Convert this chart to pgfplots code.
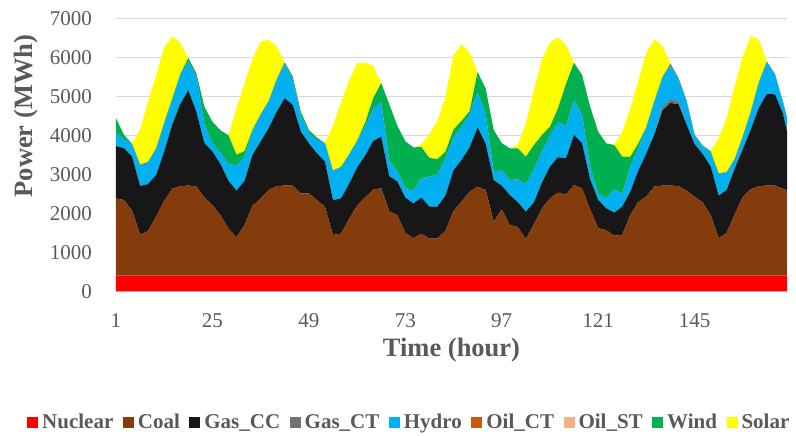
\documentclass[border=0pt]{standalone}
\usepackage{pgfplots}
\pgfplotsset{compat=1.18}
\usepackage{pgfplotstable}
\usepackage{fontspec}
\setmainfont{Liberation Serif}
\definecolor{nucc}{HTML}{FF0000}
\definecolor{coalc}{HTML}{843C0C}
\definecolor{gasccc}{HTML}{171717}
\definecolor{gasctc}{HTML}{767171}
\definecolor{hydroc}{HTML}{00B0F0}
\definecolor{oilctc}{HTML}{C55A11}
\definecolor{oilstc}{HTML}{F4B183}
\definecolor{windc}{HTML}{00B050}
\definecolor{solarc}{HTML}{FFFF00}
\definecolor{txt}{HTML}{595959}
\definecolor{gridc}{HTML}{D9D9D9}
\pgfplotstableread{
h nuc coal gascc gasct hydro oilct oilst wind solar
1 400 1980 1346 0 324 0 0 385 0
3 400 1940 1326 0 239 0 0 105 0
5 400 1670 1380 0 310 0 0 20 0
7 400 1050 1250 0 530 0 0 20 900
9 400 1150 1200 0 550 0 0 20 1550
11 400 1520 1060 0 670 0 0 20 1860
13 400 1920 1260 0 720 0 0 20 1930
15 400 2230 1640 0 650 0 0 20 1590
17 400 2300 2100 0 750 0 0 20 810
19 400 2310 2440 0 750 0 0 80 0
21 400 2290 1910 0 900 0 0 90 0
23 400 2000 1400 0 500 0 0 430 0
25 400 1810 1370 0 210 0 0 560 0
27 400 1550 1310 0 300 0 0 570 0
29 400 1200 1230 0 430 0 0 740 0
31 400 990 1190 0 650 0 0 270 1200
33 400 1300 1130 0 620 0 0 150 1730
35 400 1800 1300 0 630 0 0 20 1810
37 400 1980 1460 0 680 0 0 20 1860
39 400 2200 1580 0 680 0 0 20 1570
41 400 2300 1900 0 820 0 0 20 840
43 400 2310 2240 0 880 0 0 40 0
45 400 2310 2067 0 641 0 0 86 0
47 400 2110 1584 0 427 0 0 85 0
49 400 2110 1284 0 256 0 0 86 0
51 400 1940 1198 0 342 0 0 60 0
53 400 1770 1154 0 470 0 0 6 0
55 400 1044 897 0 739 0 0 20 1150
57 400 1080 900 0 790 0 0 20 1640
59 400 1450 900 0 745 0 0 15 1890
61 400 1800 970 0 670 0 0 20 1990
63 400 2010 1070 0 750 0 0 90 1543
65 400 2210 1240 0 830 0 0 270 830
67 400 2240 1325 0 885 0 0 490 0
69 400 1660 890 0 400 0 0 1450 0
71 400 1550 870 0 270 0 0 1160 0
73 400 1100 900 0 250 0 0 1200 0
75 400 960 890 0 330 0 0 1110 0
77 400 1080 920 0 500 0 0 800 60
79 400 950 820 0 770 0 0 480 610
81 400 950 820 0 830 0 0 390 980
83 400 1150 900 0 950 0 0 180 1410
85 400 1660 1040 0 850 0 0 200 1900
87 400 1899 1068 0 853 0 0 150 1960
89 400 2155 1128 0 857 0 0 80 1500
91 400 2283 1517 0 900 0 0 520 0
93 400 2200 1180 0 780 0 0 640 0
95 400 1380 1070 0 200 0 0 1090 0
97 400 1700 608 0 402 0 0 690 0
99 400 1300 770 0 383 0 0 812 0
101 400 1250 631 0 589 0 0 795 85
103 400 940 702 0 709 0 0 701 848
105 400 1320 552 0 855 0 0 624 1409
107 400 1720 665 0 795 0 0 427 1943
109 400 1983 812 0 787 0 0 239 2149
111 400 2130 905 0 897 0 0 359 1821
113 400 2080 930 0 828 0 0 1082 995
115 400 2325 1282 0 898 0 0 957 0
117 400 2240 1154 0 726 0 0 1026 0
119 400 1700 770 0 325 0 0 1539 0
121 400 1220 720 0 172 0 0 1581 0
123 400 1170 557 0 256 0 0 1411 0
125 400 1026 590 0 604 0 0 1131 9
127 400 1050 720 0 330 0 0 952 632
129 400 1556 598 0 646 0 0 252 1228
131 400 1898 795 0 587 0 0 114 1606
133 400 2026 1111 0 663 0 0 20 1898
135 400 2290 1330 0 850 0 0 10 1580
137 400 2310 1930 80 760 5 0 5 800
139 400 2310 2120 100 870 30 0 10 0
141 400 2300 2100 60 590 10 0 10 0
143 400 2180 1690 0 610 0 0 10 0
145 400 2030 1340 0 230 0 0 20 0
147 400 1880 1240 0 200 0 0 20 0
149 400 1560 1240 0 360 0 0 30 10
151 400 960 1090 0 560 0 0 10 900
153 400 1100 1100 0 450 0 0 10 1390
155 400 1580 1170 0 240 0 0 10 1870
157 400 2020 1220 0 320 0 0 10 2050
159 400 2220 1530 0 450 0 0 10 1940
161 400 2300 2000 0 650 0 0 10 1090
163 400 2310 2350 0 820 0 0 10 0
165 400 2310 2340 0 510 0 0 10 0
167 400 2230 1920 0 290 0 0 10 0
168 400 2190 1510 0 350 0 0 10 0
}\data
\begin{document}
\begin{tikzpicture}
\useasboundingbox (-116bp,-144.7bp) rectangle (680bp,291.3bp);
\begin{axis}[
  at={(0,0)}, anchor=south west,
  width=671bp, height=273bp, scale only axis,
  xmin=1, xmax=168, ymin=0, ymax=7000,
  stack plots=y,
  xtick={1,25,49,73,97,121,145},
  ytick={0,1000,2000,3000,4000,5000,6000,7000},
  ymajorgrids, grid style={draw=gridc, line width=1bp},
  axis x line*=bottom, axis y line*=left,
  x axis line style={draw=gridc, line width=1bp},
  y axis line style={draw=none},
  major tick length=0pt,
  tick label style={font=\fontsize{21bp}{25bp}\selectfont, text=txt},
  /pgf/number format/assume math mode=true,
  /pgf/number format/1000 sep={},
  yticklabel style={inner sep=0pt, anchor=east, xshift=-24bp},
  xticklabel style={inner sep=0pt, anchor=north, yshift=-22bp},
  xlabel={Time (hour)},
  xlabel style={at={(axis description cs:0.5,0)}, anchor=center, yshift=-58.7bp, inner sep=0pt, font=\fontsize{26.5bp}{30bp}\selectfont\bfseries, text=txt},
  ylabel={Power (MWh)},
  ylabel style={at={(axis description cs:-0.134,0.642)}, anchor=center, inner sep=0pt, font=\fontsize{26.5bp}{30bp}\selectfont\bfseries, text=txt},
  legend columns=9,
  legend style={at={(axis description cs:-0.1326,-0.4788)}, anchor=west, draw=none, fill=none, inner sep=0pt,
    font=\fontsize{21bp}{25bp}\selectfont\bfseries, text=txt,
    nodes={inner sep=0pt},
    /tikz/every odd column/.append style={column sep=4bp},
    /tikz/every even column/.append style={column sep=9.5bp}},
  legend image code/.code={\fill[#1] (0bp,-5.5bp) rectangle (11bp,5.5bp);},
]
\addplot[fill=nucc, draw=none] table[x=h,y=nuc]{\data} \closedcycle;
\addplot[fill=coalc, draw=none] table[x=h,y=coal]{\data} \closedcycle;
\addplot[fill=gasccc, draw=none] table[x=h,y=gascc]{\data} \closedcycle;
\addplot[fill=gasctc, draw=none] table[x=h,y=gasct]{\data} \closedcycle;
\addplot[fill=hydroc, draw=none] table[x=h,y=hydro]{\data} \closedcycle;
\addplot[fill=oilctc, draw=none] table[x=h,y=oilct]{\data} \closedcycle;
\addplot[fill=oilstc, draw=none] table[x=h,y=oilst]{\data} \closedcycle;
\addplot[fill=windc, draw=none] table[x=h,y=wind]{\data} \closedcycle;
\addplot[fill=solarc, draw=none] table[x=h,y=solar]{\data} \closedcycle;
\legend{Nuclear, Coal, Gas\_CC, Gas\_CT, Hydro, Oil\_CT, Oil\_ST, Wind, Solar}
\end{axis}
\end{tikzpicture}
\end{document}
